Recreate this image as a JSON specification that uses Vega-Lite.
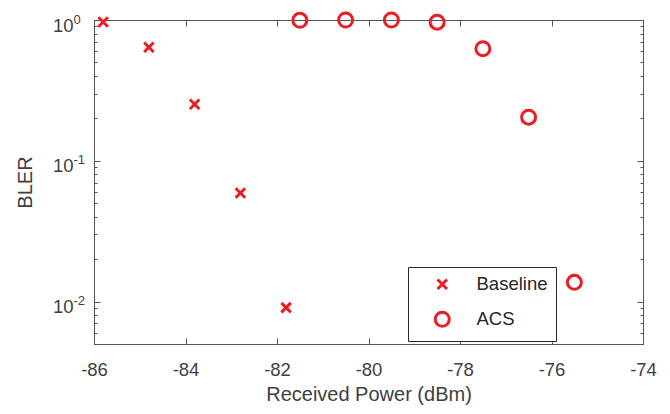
{
  "$schema": "https://vega.github.io/schema/vega-lite/v6.json",
  "width": 549,
  "height": 324,
  "autosize": "none",
  "padding": {"left": 94, "top": 20, "right": 27, "bottom": 70},
  "background": "white",
  "config": {
    "view": {"stroke": "#555555", "strokeWidth": 1},
    "font": "Liberation Sans",
    "axis": {"grid": false, "domainColor": "#555555", "tickColor": "#555555", "labelColor": "#404040", "titleColor": "#404040", "labelFontSize": 18.5, "titleFontSize": 20, "titleFontWeight": "normal", "labelFlush": false}
  },
  "data": {
    "values": [
      {"power": -85.8, "bler": 0.968, "series": "Baseline"},
      {"power": -84.8, "bler": 0.64, "series": "Baseline"},
      {"power": -83.8, "bler": 0.252, "series": "Baseline"},
      {"power": -82.8, "bler": 0.0591, "series": "Baseline"},
      {"power": -81.8, "bler": 0.00907, "series": "Baseline"},
      {"power": -81.5, "bler": 0.995, "series": "ACS"},
      {"power": -80.5, "bler": 1.0, "series": "ACS"},
      {"power": -79.5, "bler": 1.0, "series": "ACS"},
      {"power": -78.5, "bler": 0.965, "series": "ACS"},
      {"power": -77.5, "bler": 0.626, "series": "ACS"},
      {"power": -76.5, "bler": 0.204, "series": "ACS"},
      {"power": -75.5, "bler": 0.0137, "series": "ACS"}
    ]
  },
  "layer": [
    {
      "mark": {"type": "point", "filled": false, "strokeWidth": 3, "opacity": 1},
      "encoding": {
        "x": {
          "field": "power", "type": "quantitative",
          "scale": {"domain": [-86, -74], "nice": false, "zero": false},
          "axis": {"orient": "bottom", "values": [-86, -84, -82, -80, -78, -76, -74], "labelExpr": "replace(datum.label, '−', '-')", "tickSize": -6, "labelPadding": 22, "title": "Received Power (dBm)", "titlePadding": 6}
        },
        "y": {
          "field": "bler", "type": "quantitative",
          "scale": {"type": "log", "domain": [0.005, 1], "nice": false},
          "axis": {
            "orient": "left",
            "values": [0.005, 0.006, 0.007, 0.008, 0.009, 0.01, 0.02, 0.03, 0.04, 0.05, 0.06, 0.07, 0.08, 0.09, 0.1, 0.2, 0.3, 0.4, 0.5, 0.6, 0.7, 0.8, 0.9, 1],
            "labelExpr": "datum.value == 1 || abs(datum.value - 0.1) < 1e-9 || abs(datum.value - 0.01) < 1e-9 ? '10' : ''",
            "tickSize": {"condition": {"test": "datum.value == 1 || abs(datum.value - 0.1) < 1e-9 || abs(datum.value - 0.01) < 1e-9", "value": -6}, "value": -3},
            "labelPadding": 27,
            "labelOffset": 5,
            "title": "BLER",
            "titlePadding": 17
          }
        },
        "shape": {
          "field": "series", "type": "nominal",
          "scale": {"domain": ["Baseline", "ACS"], "range": ["M-1,-1L1,1M-1,1L1,-1", "circle"]},
          "legend": {
            "orient": "none", "legendX": 314, "legendY": 247, "title": null,
            "strokeColor": "#262626", "fillColor": "white", "padding": 8,
            "labelFontSize": 18.5, "labelColor": "#262626", "symbolStrokeWidth": 3,
            "symbolOffset": 17, "labelOffset": 25, "rowPadding": 11
          }
        },
        "color": {
          "field": "series", "type": "nominal",
          "scale": {"domain": ["Baseline", "ACS"], "range": ["#ec1c24", "#ec1c24"]}
        },
        "size": {
          "field": "series", "type": "nominal",
          "scale": {"domain": ["Baseline", "ACS"], "range": [90, 196]}
        }
      }
    },
    {
      "mark": {"type": "point", "opacity": 0},
      "encoding": {
        "x": {
          "field": "power", "type": "quantitative",
          "axis": {"orient": "top", "values": [-86, -84, -82, -80, -78, -76, -74], "tickSize": -6, "labels": false, "title": null}
        },
        "y": {
          "field": "bler", "type": "quantitative",
          "axis": {
            "orient": "right",
            "values": [0.005, 0.006, 0.007, 0.008, 0.009, 0.01, 0.02, 0.03, 0.04, 0.05, 0.06, 0.07, 0.08, 0.09, 0.1, 0.2, 0.3, 0.4, 0.5, 0.6, 0.7, 0.8, 0.9, 1],
            "tickSize": {"condition": {"test": "datum.value == 1 || abs(datum.value - 0.1) < 1e-9 || abs(datum.value - 0.01) < 1e-9", "value": -6}, "value": -3},
            "labels": false, "title": null
          }
        }
      }
    },
    {
      "mark": {"type": "point", "opacity": 0},
      "encoding": {
        "x": {"field": "power", "type": "quantitative", "axis": null},
        "y": {
          "field": "bler", "type": "quantitative",
          "axis": {
            "orient": "left",
            "values": [0.01, 0.1, 1],
            "labelExpr": "datum.value == 1 ? '0' : (abs(datum.value - 0.1) < 1e-9 ? '-1' : '-2')",
            "ticks": false, "domain": false,
            "labelAlign": "left",
            "labelFontSize": 13,
            "labelPadding": 21,
            "labelOffset": -1,
            "title": null
          }
        }
      }
    }
  ],
  "resolve": {"axis": {"x": "independent", "y": "independent"}}
}
